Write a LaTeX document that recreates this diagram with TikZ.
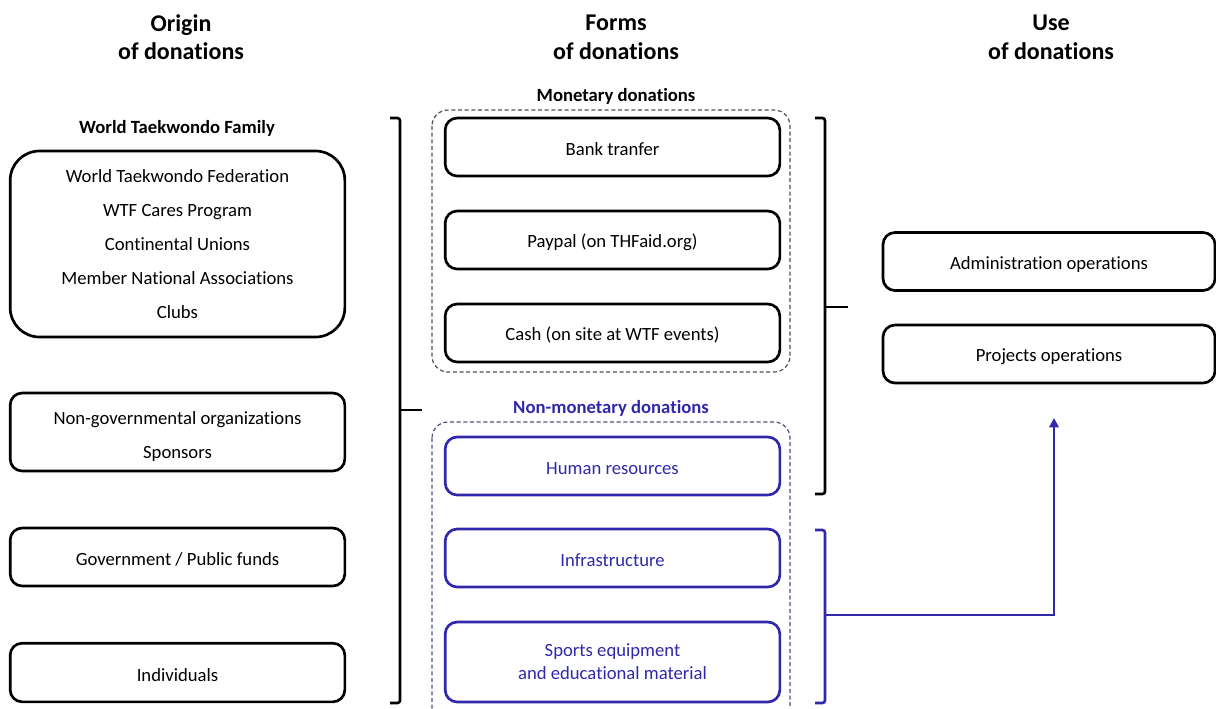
\documentclass[tikz,border=0pt]{standalone}
\usepackage{fontspec}
\setmainfont{Carlito}[Ligatures=NoCommon]
\usetikzlibrary{arrows.meta}
\definecolor{dblue}{RGB}{48,40,170}
\definecolor{dgray}{RGB}{80,80,80}
\definecolor{dbluegray}{RGB}{80,80,130}
\begin{document}
\begin{tikzpicture}[x=0.75pt,y=-0.75pt,
  box/.style={draw=black,line width=2pt,rounded corners=9pt,minimum width=251pt,inner sep=0pt,font=\fontsize{14}{25.5}\selectfont,align=center},
  sbox/.style={box,text height=13.5pt},
  bbox/.style={draw=dblue,text=dblue},
  grp/.style={draw=dgray,line width=0.9pt,dash pattern=on 3pt off 2pt,rounded corners=12pt},
  bgrp/.style={grp,draw=dbluegray},
  head/.style={font=\fontsize{18}{21.5}\selectfont\bfseries,align=center},
  lab/.style={font=\fontsize{14}{16}\selectfont\bfseries},
  brk/.style={line width=2pt,rounded corners=2pt}]
\useasboundingbox (0,0) rectangle (1216,708);
% headings
\node[head] (h1) at (181,37) {Origin\\of donations};
\node[head] (h2) at (616,37) {Forms\\of donations};
\node[head] (h3) at (1051,37) {Use\\of donations};
% left column
\node[lab] (wtf) at (177,128) {World Taekwondo Family};
\node[box,rounded corners=22pt,minimum height=139.5pt] (b1) at (177.5,244)
  {World Taekwondo Federation\\WTF Cares Program\\Continental Unions\\Member National Associations\\Clubs};
\node[box,minimum height=58.5pt] (b2) at (177.5,432)
  {\raisebox{-2.25pt}[\height][\depth]{\begin{tabular}{@{}c@{}}Non-governmental organizations\\Sponsors\end{tabular}}};
\node[sbox,minimum height=43.5pt] (b3) at (177.5,557) {Government / Public funds};
\node[sbox,minimum height=44pt] (b4) at (177.5,672.5) {Individuals};
% left bracket
\draw[brk] (390,118) -- (400,118) -- (400,703) -- (390,703);
\coordinate (lt) at (400,410);
\coordinate (ltend) at (422,410);
\draw[line width=2pt] (lt) -- (ltend);
% middle groups
\node[lab] (mon) at (616,96) {Monetary donations};
\draw[grp] (432,110) rectangle (790,372);
\node[sbox,minimum height=43.5pt] (m1) at (612.5,147) {Bank tranfer};
\node[sbox,minimum height=43.5pt] (m2) at (612.5,240) {Paypal (on THFaid.org)};
\node[sbox,minimum height=43.5pt] (m3) at (612.5,333) {Cash (on site at WTF events)};
\node[lab,text=dblue] (nmon) at (611,408) {Non-monetary donations};
\begin{scope}
\clip (0,0) rectangle (1216,708);
\draw[bgrp] (432,422) rectangle (790,740);
\end{scope}
\node[sbox,bbox,minimum height=43.5pt] (n1) at (612.5,466) {Human resources};
\node[sbox,bbox,minimum height=43.5pt] (n2) at (612.5,558) {Infrastructure};
\node[box,bbox,minimum height=60pt,font=\fontsize{14}{17.25}\selectfont] (n3) at (612.5,662) {Sports equipment\\and educational material};
% right bracket black
\draw[brk] (815,118) -- (825,118) -- (825,494) -- (815,494);
\coordinate (rt) at (825,307);
\coordinate (rtend) at (848,307);
\draw[line width=2pt] (rt) -- (rtend);
% right bracket blue
\draw[brk,draw=dblue] (815,530) -- (825,530) -- (825,703) -- (815,703);
\coordinate (bt) at (825,615);
\coordinate (arr) at (1054,418);
\draw[line width=2pt,draw=dblue,-{Triangle[length=7pt,width=7pt]}] (bt) -| (arr);
% right boxes
\node[sbox,minimum width=249pt,minimum height=43.5pt] (r1) at (1049,261.5) {Administration operations};
\node[sbox,minimum width=249pt,minimum height=43.5pt] (r2) at (1049,354) {Projects operations};
\end{tikzpicture}
\end{document}
